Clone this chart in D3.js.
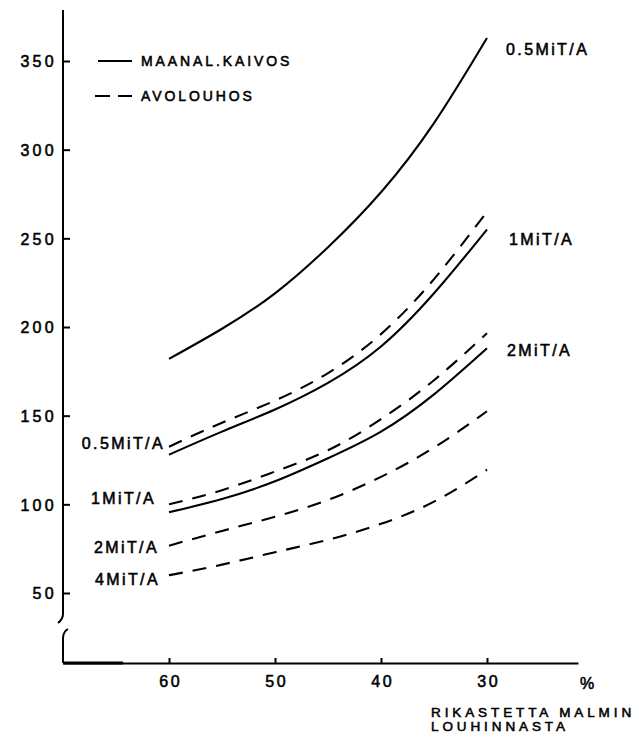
<!DOCTYPE html>
<html><head><meta charset="utf-8">
<script src="https://cdn.jsdelivr.net/npm/d3@7"></script>
<style>
html,body{margin:0;padding:0;background:#fff;}
svg{display:block;}
text{font-family:"Liberation Sans",Arial,Helvetica,sans-serif;fill:#000;stroke:#000;stroke-width:0.55px;}
</style></head>
<body>
<script>
// ---- data ----
const pct = [60, 55, 50, 45, 40, 35, 30];
const ugHalf = [182, 199, 219, 245, 276, 315, 363];
const ug1 = [128, 141, 153.5, 168.5, 189, 219, 255];
const ug2 = [95.5, 103, 113, 126, 141, 162, 188];
const opHalf = [132.5, 146, 158.5, 174, 196, 227, 265];
const op1 = [100, 108, 118.5, 130.5, 148, 170, 196.5];
const op2 = [76.7, 85, 93, 102.5, 115.5, 132, 152.5];
const op4 = [60, 66, 73, 80, 89, 101.5, 119.5];
const yTicks = [50, 100, 150, 200, 250, 300, 350];
const xTicks = [60, 50, 40, 30];
const legendLabels = ["MAANAL.KAIVOS", "AVOLOUHOS"];
const leftLabels = ["0.5MiT/A", "1MiT/A", "2MiT/A", "4MiT/A"];
const rightLabels = ["0.5MiT/A", "1MiT/A", "2MiT/A"];
const xUnit = "%";
const xTitle = ["RIKASTETTA MALMIN", "LOUHINNASTA"];

const W = 639, H = 738;
const svg = d3.select("body").append("svg").attr("width", W).attr("height", H);

const x = d3.scaleLinear().domain([60, 30]).range([169, 487]);
const y = d3.scaleLinear().domain([50, 350]).range([593, 61]);
const axisX = 63, baseY = 663;

const xA = x.copy().domain([x.invert(axisX), x.invert(578)]).range([axisX, 578]);

// ---- y axis ----
const yAxisG = svg.append("g").attr("transform", `translate(${axisX},0)`)
  .call(d3.axisLeft(y).tickValues(yTicks).tickSize(-7).tickPadding(0).tickFormat(d3.format("d")));
yAxisG.select(".domain").remove();
yAxisG.selectAll(".tick line").attr("stroke", "#000").attr("stroke-width", 2);
yAxisG.selectAll(".tick text").attr("x", -6).attr("dy", "0.36em")
  .style("font-size", "16px").style("letter-spacing", "3.3px").attr("text-anchor", "end");

const axisTop = 10, breakTop = 614;
svg.append("path")
  .attr("d", `M${axisX},${axisTop}V${breakTop}Q${axisX},${breakTop+5} ${axisX-5},${breakTop+9}`)
  .attr("fill", "none").attr("stroke", "#000").attr("stroke-width", 2);
svg.append("path")
  .attr("d", `M${axisX+5},${629}Q${axisX},${632} ${axisX},${638}V${baseY}`)
  .attr("fill", "none").attr("stroke", "#000").attr("stroke-width", 2);

// ---- x axis ----
const xAxisG = svg.append("g").attr("transform", `translate(0,${baseY})`)
  .call(d3.axisBottom(xA).tickValues(xTicks).tickSize(-5).tickSizeOuter(0).tickPadding(13));
xAxisG.select(".domain").attr("stroke", "#000").attr("stroke-width", 2);
xAxisG.selectAll(".tick line").attr("stroke", "#000").attr("stroke-width", 2);
xAxisG.selectAll(".tick text").style("font-size", "16px").style("letter-spacing", "2.5px")
  .attr("dx", "1.2px");
svg.append("line").attr("x1", axisX).attr("x2", 123).attr("y1", baseY).attr("y2", baseY)
  .attr("stroke", "#000").attr("stroke-width", 2.8);

svg.append("text").attr("x", 587).attr("y", baseY + 26).attr("text-anchor", "middle")
  .style("font-size", "16px").text(xUnit);
xTitle.forEach((t, i) => {
  svg.append("text").attr("x", 431).attr("y", 717 + i * 14)
    .style("font-size", "13.5px").style("letter-spacing", "3.9px").text(t);
});

// ---- curves ----
const line = d3.line().x(d => x(d[0])).y(d => y(d[1])).curve(d3.curveNatural);
const series = [
  {v: ugHalf, dash: null}, {v: ug1, dash: null}, {v: ug2, dash: null},
  {v: opHalf, dash: "14,10"}, {v: op1, dash: "14,10"}, {v: op2, dash: "14,10"}, {v: op4, dash: "14,10"}
];
series.forEach(s => {
  svg.append("path").datum(pct.map((p, i) => [p, s.v[i]]))
    .attr("d", line).attr("fill", "none").attr("stroke", "#000").attr("stroke-width", 2.1)
    .attr("stroke-dasharray", s.dash);
});

// ---- legend ----
svg.append("line").attr("x1", 98).attr("x2", 132).attr("y1", 61).attr("y2", 61)
  .attr("stroke", "#000").attr("stroke-width", 2.2);
svg.append("line").attr("x1", 95).attr("x2", 132).attr("y1", 96).attr("y2", 96)
  .attr("stroke", "#000").attr("stroke-width", 2.2).attr("stroke-dasharray", "15,8");
legendLabels.forEach((t, i) => {
  svg.append("text").attr("x", 141).attr("y", i === 0 ? 61 : 96).attr("dy", "0.36em")
    .style("font-size", "14px").style("letter-spacing", "2.9px").text(t);
});

// ---- curve labels ----
const leftSeries = [opHalf, op1, op2, op4];
const leftDy = [-3, -6, 2, 4];
const leftEnd = [162, 153, 156, 157];
leftLabels.forEach((t, i) => {
  svg.append("text").attr("x", leftEnd[i] + 3).attr("y", y(leftSeries[i][0]) + leftDy[i])
    .attr("dy", "0.36em").attr("text-anchor", "end")
    .style("font-size", "16px").style("letter-spacing", "2.4px").text(t);
});
const rightSeries = [ugHalf, ug1, ug2];
const rightDy = [11, 10, 2];
const rightX = [506, 509, 507];
rightLabels.forEach((t, i) => {
  svg.append("text").attr("x", rightX[i]).attr("y", y(rightSeries[i][6]) + rightDy[i])
    .attr("dy", "0.36em")
    .style("font-size", "16px").style("letter-spacing", "2.4px").text(t);
});
</script>
</body></html>
